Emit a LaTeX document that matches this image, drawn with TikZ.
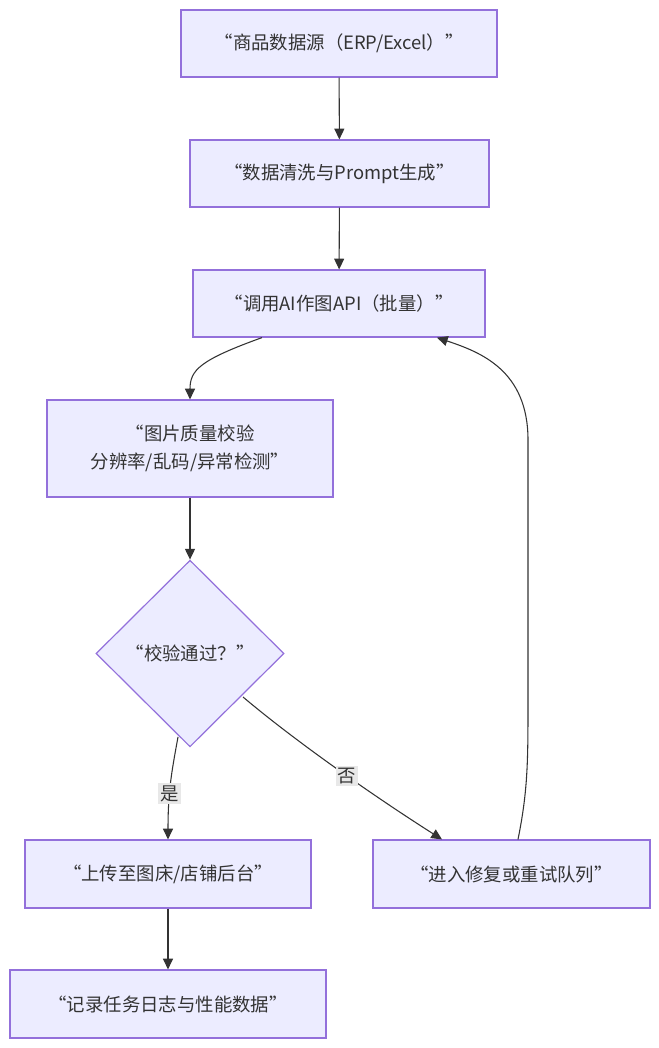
\documentclass[tikz,border=0pt]{standalone}
\usepackage{fontspec}
\setmainfont{Noto Sans CJK SC}
\usetikzlibrary{arrows.meta, calc, shapes.geometric, positioning}

\definecolor{boxfill}{HTML}{ECECFF}
\definecolor{boxline}{HTML}{9370DB}
\definecolor{ink}{HTML}{333333}
\definecolor{lblfill}{HTML}{E8E8E8}

\tikzset{
  stepbox/.style={draw=boxline, fill=boxfill, line width=0.9pt, text=ink,
    minimum height=50.25pt, inner sep=0pt, align=center},
  choice/.style={diamond, draw=boxline, fill=boxfill, line width=0.9pt, text=ink,
    minimum width=141pt, minimum height=140pt, inner sep=0pt, aspect=1},
  flow/.style={draw=ink, line width=0.8pt, -{Triangle[length=8pt,width=7.5pt]}},
  edgelbl/.style={fill=lblfill, text=ink, inner sep=1.5pt}
}

\begin{document}
\begin{tikzpicture}[x=0.75pt, y=-0.75pt, font=\fontsize{13.8}{21.5}\selectfont]

  % --- canvas ---
  \useasboundingbox (0,0) rectangle (659,1048);

  % --- main column ---
  \node[stepbox, minimum width=237pt] (src) at (339,43.5) {“商品数据源（ERP/Excel）”};
  \node[stepbox, minimum width=224.25pt] (clean) at (339.5,173.5) {“数据清洗与Prompt生成”};
  \node[stepbox, minimum width=219pt] (gen) at (339,303.5) {“调用AI作图API（批量）”};
  \node[stepbox, minimum width=214.5pt, minimum height=72.75pt] (check) at (190,448.5)
    {“图片质量校验\\分辨率/乱码/异常检测”};
  \node[choice] (pass) at (190,653.5) {“校验通过？”};

  % --- branches ---
  \node[stepbox, minimum width=214.5pt, minimum height=51pt] (upload) at (168,874) {“上传至图床/店铺后台”};
  \node[stepbox, minimum width=207.75pt, minimum height=51pt] (retry) at (511.5,874) {“进入修复或重试队列”};
  \node[stepbox, minimum width=237pt, minimum height=51pt] (log) at (168,1004) {“记录任务日志与性能数据”};

  % --- connectors ---
  \draw[flow] (src) -- (clean);
  \draw[flow] (clean) -- (gen);
  \draw[flow] ($(gen.south)+(-77,0)$) .. controls (200,360) and (190,370) .. (check.north);
  \draw[flow] (check) -- (pass);
  \draw[flow] (upload) -- (log);

  \coordinate (yesfoot) at (178,737);
  \draw[flow] (yesfoot) .. controls (172,770) and (168,790) .. (upload.north)
    node[edgelbl, pos=0.62] (yes) {是};

  \coordinate (nofoot) at (243,697);
  \draw[flow] (nofoot) .. controls (300,745) and (380,800) .. ($(retry.north)+(-69.5,0)$)
    node[edgelbl, pos=0.53] (no) {否};

  % back to the generator
  \draw[flow] ($(retry.north)+(6.5,0)$) .. controls (528,790) and (528,760) .. (528,700)
    -- (528,440) .. controls (528,370) and (480,352) .. ($(gen.south)+(98,0)$);

\end{tikzpicture}
\end{document}
